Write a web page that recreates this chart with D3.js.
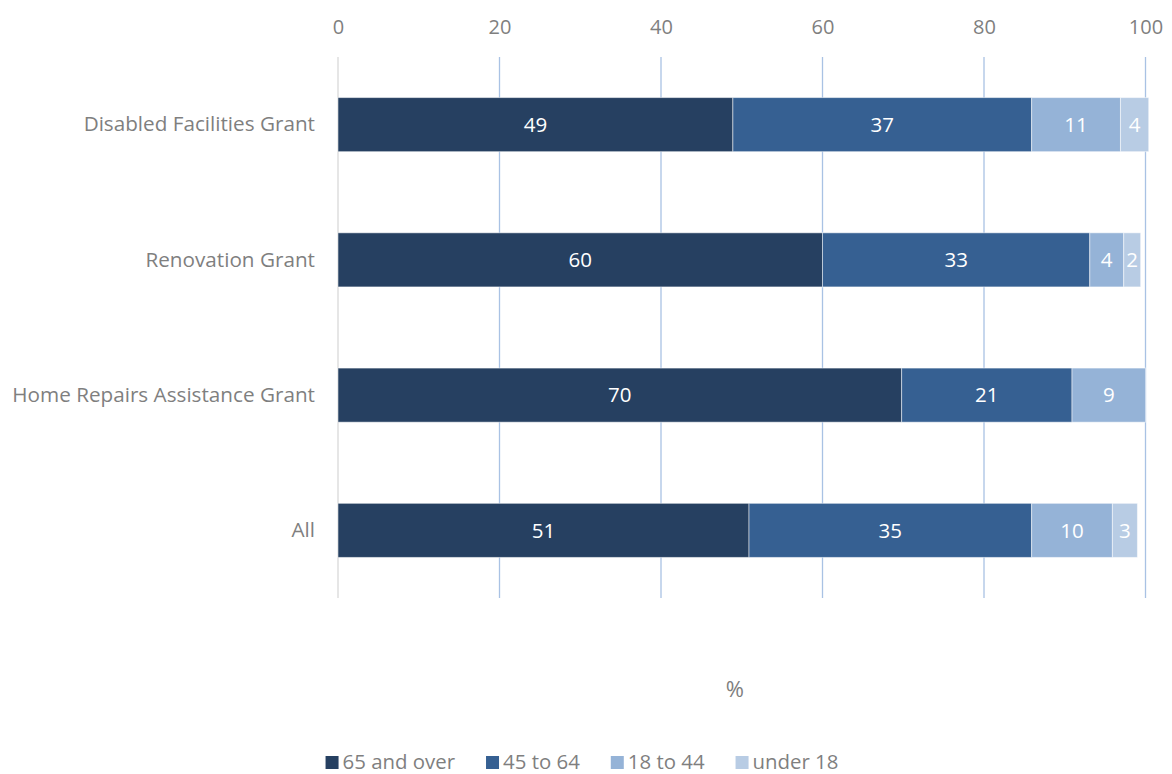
<!DOCTYPE html>
<html>
<head>
<meta charset="utf-8">
<script src="https://cdn.jsdelivr.net/npm/d3@7"></script>
<style>
  body { margin: 0; background: #fff; }
  svg { display: block; font-family: "Open Sans", sans-serif; }
</style>
</head>
<body>
<svg id="chart" width="1172" height="774"></svg>
<script>
const categories = ["Disabled Facilities Grant", "Renovation Grant", "Home Repairs Assistance Grant", "All"];
const seriesNames = ["65 and over", "45 to 64", "18 to 44", "under 18"];
const age65plus = [48.9, 60.0, 69.8, 50.9];
const age45to64 = [37.0, 33.1, 21.1, 35.0];
const age18to44 = [11.0, 4.2, 9.1, 10.0];
const under18   = [3.5, 2.1, 0, 3.1];
const xTicks = [0, 20, 40, 60, 80, 100];
const axisTitle = "%";

const colors = ["#264061", "#366092", "#95b3d7", "#b8cce4"];
const seriesValues = [age65plus, age45to64, age18to44, under18];
const FONT = "'Open Sans', sans-serif";
const GRAY = "#7f7f7f";

const rows = categories.map((c, i) => {
  const r = { category: c };
  seriesNames.forEach((s, j) => r[s] = seriesValues[j][i]);
  return r;
});
const stacked = d3.stack().keys(seriesNames)(rows);

const svg = d3.select("#chart");
const margin = { left: 338, right: 1145.5, top: 57, bottom: 598 };

const x = d3.scaleLinear().domain([0, 100]).range([margin.left, margin.right]);
const y = d3.scaleBand().domain(categories).range([margin.top, margin.bottom]).paddingInner(0.6).paddingOuter(0.3);

// gridlines
svg.append("g").selectAll("line").data(xTicks).join("line")
  .attr("x1", d => x(d)).attr("x2", d => x(d))
  .attr("y1", margin.top).attr("y2", margin.bottom)
  .attr("stroke", d => d === 0 ? "#d9d9d9" : "#a9c2e4")
  .attr("stroke-width", 1.3);

// top axis
const xAxis = d3.axisTop(x).tickValues(xTicks).tickSize(0).tickPadding(0);
const gx = svg.append("g").attr("transform", "translate(0,34)").call(xAxis);
gx.select(".domain").remove();
gx.selectAll("text").attr("fill", GRAY).attr("font-size", 20).attr("font-family", FONT);

// category axis
const yAxis = d3.axisLeft(y).tickSize(0).tickPadding(23);
const gy = svg.append("g").attr("transform", `translate(${margin.left},0)`).call(yAxis);
gy.select(".domain").remove();
gy.selectAll("text").attr("fill", GRAY).attr("font-size", 20.7).attr("font-family", FONT);

// bars
const layers = svg.append("g").selectAll("g").data(stacked).join("g")
  .attr("fill", (d, i) => colors[i]);
layers.selectAll("rect").data(d => d.filter(p => p[1] - p[0] > 0)).join("rect")
  .attr("x", d => x(d[0]))
  .attr("y", d => y(d.data.category))
  .attr("width", d => x(d[1]) - x(d[0]))
  .attr("height", y.bandwidth())
  .attr("stroke", "#ffffff")
  .attr("stroke-opacity", 0.5)
  .attr("stroke-width", 1);

// labels
layers.selectAll("text").data(d => d.filter(p => p[1] - p[0] > 0)).join("text")
  .attr("x", d => (x(d[0]) + x(d[1])) / 2)
  .attr("y", d => y(d.data.category) + y.bandwidth() / 2)
  .attr("dy", "0.35em")
  .attr("text-anchor", "middle")
  .attr("fill", "#ffffff")
  .attr("font-size", 20.5)
  .text(d => Math.round(d[1] - d[0]));

// axis title
svg.append("text")
  .attr("x", (x(0) + x(100)) / 2 - 7)
  .attr("y", 697)
  .attr("text-anchor", "middle")
  .attr("fill", GRAY)
  .attr("font-size", 22)
  .text(axisTitle);

// legend (laid out from measured text widths, centred on the chart)
const legendFont = 20.4, sq = 13, sqGap = 4, itemGap = 31, legendCenter = 582;
const lg = svg.append("g");
const items = lg.selectAll("g").data(seriesNames).join("g");
items.append("rect").attr("width", sq).attr("height", sq).attr("y", 0).attr("fill", (d, i) => colors[i]);
items.append("text").attr("x", sq + sqGap).attr("y", 13)
  .attr("fill", GRAY).attr("font-size", legendFont).text(d => d);
let cursor = 0;
const offsets = [];
items.each(function () {
  const w = sq + sqGap + d3.select(this).select("text").node().getComputedTextLength();
  offsets.push(cursor);
  cursor += w + itemGap;
});
const total = cursor - itemGap;
items.attr("transform", (d, i) => `translate(${legendCenter - total / 2 + offsets[i]},756)`);
</script>
</body>
</html>
